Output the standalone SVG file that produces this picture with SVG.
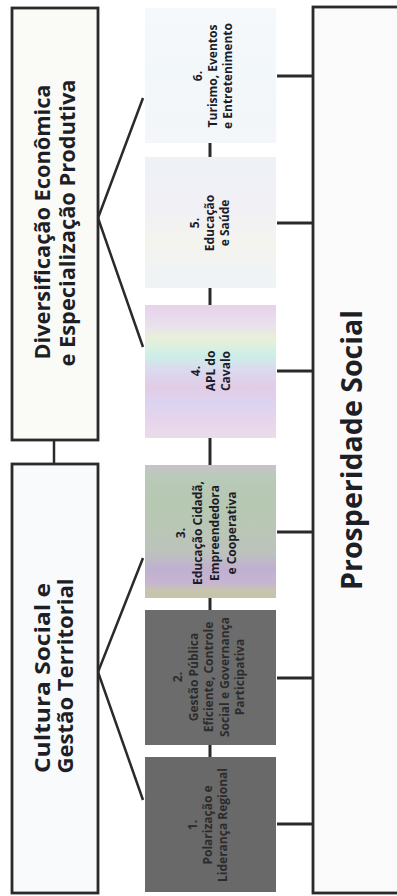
<svg xmlns="http://www.w3.org/2000/svg" width="397" height="896" viewBox="0 0 397 896">
  <style>
    .frame { stroke: #2a2a2a; stroke-width: 2.8; }
    .wire { stroke: #2a2a2a; stroke-width: 2.5; fill: none; }
    .tick { stroke: #2a2a2a; stroke-width: 3; fill: none; }
    text { font-family: "Open Sans", "Noto Sans", "DejaVu Sans", sans-serif; font-weight: bold; text-anchor: middle; }
    .title { font-size: 21.5px; fill: #1e1e26; }
    .big { font-size: 28px; fill: #1e1e26; }
    .small { font-size: 12px; fill: #1c1c28; }
    .small-dark { font-size: 12px; fill: #2c2c2c; }
  </style>
  <defs>
    <linearGradient id="g6" x1="0" y1="0" x2="0" y2="1">
      <stop offset="0" stop-color="#f6f9fb"/>
      <stop offset="0.5" stop-color="#f2f7fa"/>
      <stop offset="1" stop-color="#f4f6f9"/>
    </linearGradient>
    <linearGradient id="g5" x1="0" y1="0" x2="0" y2="1">
      <stop offset="0" stop-color="#eef2f7"/>
      <stop offset="0.4" stop-color="#f1f0f5"/>
      <stop offset="0.65" stop-color="#f4f4ee"/>
      <stop offset="1" stop-color="#eef3f7"/>
    </linearGradient>
    <linearGradient id="g4" x1="0" y1="0" x2="0" y2="1">
      <stop offset="0" stop-color="#e6d2ea"/>
      <stop offset="0.15" stop-color="#e9e0ee"/>
      <stop offset="0.25" stop-color="#e8f0d8"/>
      <stop offset="0.38" stop-color="#cdeee8"/>
      <stop offset="0.5" stop-color="#dcd8ee"/>
      <stop offset="0.62" stop-color="#e2cce6"/>
      <stop offset="0.75" stop-color="#dcd4f0"/>
      <stop offset="0.88" stop-color="#e8d4ec"/>
      <stop offset="1" stop-color="#eadce8"/>
    </linearGradient>
    <linearGradient id="g3" x1="0" y1="0" x2="0" y2="1">
      <stop offset="0" stop-color="#c8c2ca"/>
      <stop offset="0.1" stop-color="#b8cab8"/>
      <stop offset="0.3" stop-color="#b6c8b2"/>
      <stop offset="0.5" stop-color="#bac6b6"/>
      <stop offset="0.66" stop-color="#bcc2bc"/>
      <stop offset="0.78" stop-color="#c0b0d0"/>
      <stop offset="0.88" stop-color="#c6b4d2"/>
      <stop offset="0.95" stop-color="#c6c6ac"/>
      <stop offset="1" stop-color="#c4c4b0"/>
    </linearGradient>
  </defs>

  <rect width="397" height="896" fill="#ffffff"/>

  <!-- connectors -->
  <g id="connectors">
    <line class="wire" x1="54" y1="440" x2="54" y2="464"/>
    <polyline class="wire" points="143,98 98,218 143,347"/>
    <polyline class="wire" points="143,558 98,672 143,800"/>
    <line class="tick" x1="210" y1="143" x2="210" y2="157"/>
    <line class="tick" x1="210" y1="288" x2="210" y2="305"/>
    <line class="tick" x1="210" y1="438" x2="210" y2="465"/>
    <line class="tick" x1="210" y1="598" x2="210" y2="610"/>
    <line class="tick" x1="210" y1="745" x2="210" y2="757"/>
    <line class="tick" x1="277" y1="76" x2="313" y2="76"/>
    <line class="tick" x1="277" y1="223" x2="313" y2="223"/>
    <line class="tick" x1="277" y1="371" x2="313" y2="371"/>
    <line class="tick" x1="277" y1="532" x2="313" y2="532"/>
    <line class="tick" x1="277" y1="678" x2="313" y2="678"/>
    <line class="tick" x1="277" y1="824" x2="313" y2="824"/>
  </g>

  <!-- pillar: economic diversification -->
  <g id="n-diversificacao">
    <rect class="frame" x="12" y="8" width="86" height="432" fill="#fafaf6"/>
    <text class="title" transform="rotate(-90)" x="-222" y="50" textLength="275" lengthAdjust="spacingAndGlyphs">Diversificação Econômica</text>
    <text class="title" transform="rotate(-90)" x="-223" y="75" textLength="287" lengthAdjust="spacingAndGlyphs">e Especialização Produtiva</text>
  </g>

  <!-- pillar: social culture -->
  <g id="n-cultura">
    <rect class="frame" x="12" y="464" width="86" height="429" fill="#f8fafb"/>
    <text class="title" transform="rotate(-90)" x="-678" y="50" textLength="190" lengthAdjust="spacingAndGlyphs">Cultura Social e</text>
    <text class="title" transform="rotate(-90)" x="-676" y="73" textLength="195" lengthAdjust="spacingAndGlyphs">Gestão Territorial</text>
  </g>

  <!-- goal -->
  <g id="n-prosperidade">
    <rect class="frame" x="313" y="7" width="100" height="886" fill="#fbfbfb"/>
    <text class="big" transform="rotate(-90)" x="-450" y="362" textLength="280" lengthAdjust="spacingAndGlyphs">Prosperidade Social</text>
  </g>

  <!-- axes 1..6 -->
  <g id="n-b6">
    <rect x="145" y="8" width="131" height="135" fill="url(#g6)"/>
    <text class="small" transform="rotate(-90)" x="-76" y="202">6.</text>
    <text class="small" transform="rotate(-90)" x="-76" y="217">Turismo, Eventos</text>
    <text class="small" transform="rotate(-90)" x="-76" y="232">e Entretenimento</text>
  </g>
  <g id="n-b5">
    <rect x="145" y="157" width="131" height="131" fill="url(#g5)"/>
    <text class="small" transform="rotate(-90)" x="-223" y="199">5.</text>
    <text class="small" transform="rotate(-90)" x="-223" y="214">Educação</text>
    <text class="small" transform="rotate(-90)" x="-223" y="229">e Saúde</text>
  </g>
  <g id="n-b4">
    <rect x="145" y="305" width="131" height="133" fill="url(#g4)"/>
    <text class="small" transform="rotate(-90)" x="-371" y="200">4.</text>
    <text class="small" transform="rotate(-90)" x="-371" y="215">APL do</text>
    <text class="small" transform="rotate(-90)" x="-371" y="230">Cavalo</text>
  </g>
  <g id="n-b3">
    <rect x="145" y="465" width="131" height="133" fill="url(#g3)"/>
    <text class="small" transform="rotate(-90)" x="-533" y="185">3.</text>
    <text class="small" transform="rotate(-90)" x="-533" y="202">Educação Cidadã,</text>
    <text class="small" transform="rotate(-90)" x="-533" y="219">Empreendedora</text>
    <text class="small" transform="rotate(-90)" x="-533" y="236">e Cooperativa</text>
  </g>
  <g id="n-b2">
    <rect x="145" y="610" width="131" height="135" fill="#6c6c6c"/>
    <text class="small-dark" transform="rotate(-90)" x="-677" y="182">2.</text>
    <text class="small-dark" transform="rotate(-90)" x="-677" y="197.5">Gestão Pública</text>
    <text class="small-dark" transform="rotate(-90)" x="-677" y="213">Eficiente, Controle</text>
    <text class="small-dark" transform="rotate(-90)" x="-677" y="228.5">Social e Governança</text>
    <text class="small-dark" transform="rotate(-90)" x="-677" y="244">Participativa</text>
  </g>
  <g id="n-b1">
    <rect x="145" y="757" width="131" height="135" fill="#696969"/>
    <text class="small-dark" transform="rotate(-90)" x="-825" y="197">1.</text>
    <text class="small-dark" transform="rotate(-90)" x="-825" y="212">Polarização e</text>
    <text class="small-dark" transform="rotate(-90)" x="-825" y="227">Liderança Regional</text>
  </g>
</svg>
